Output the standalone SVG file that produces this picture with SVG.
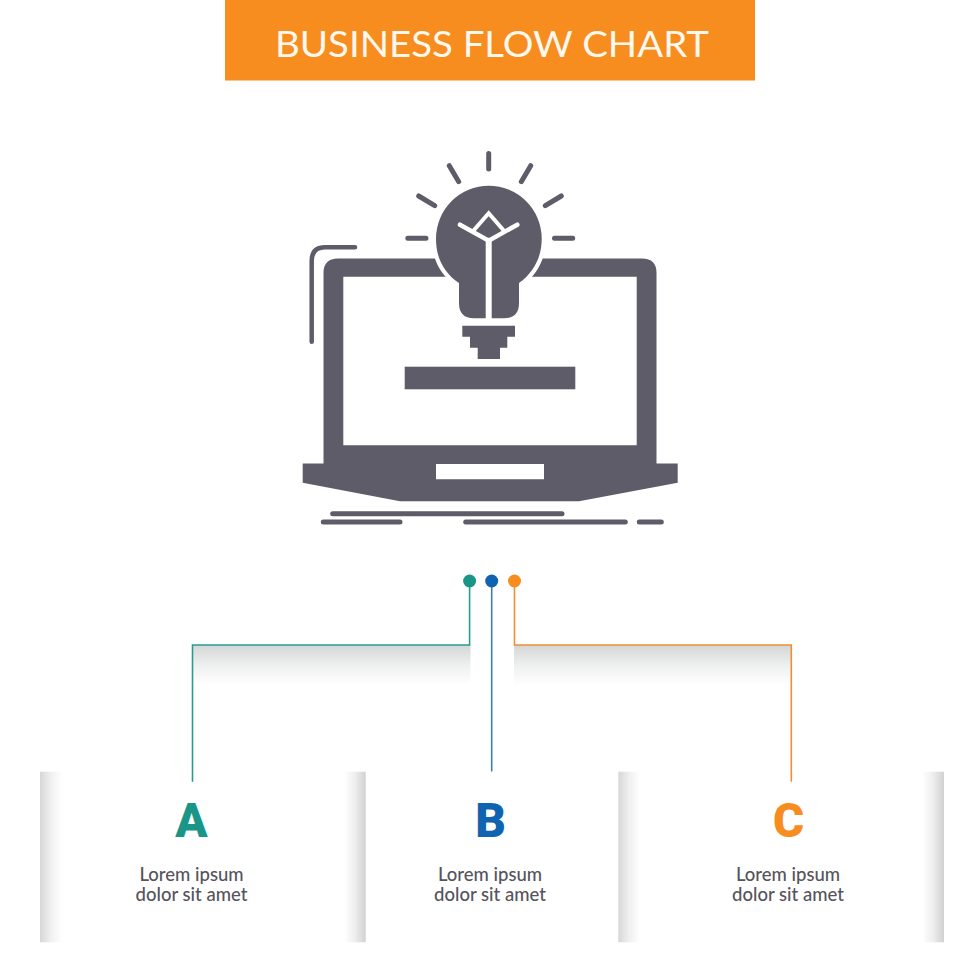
<svg xmlns="http://www.w3.org/2000/svg" width="980" height="980" viewBox="0 0 980 980">
<style>
.ic{fill:#5d5c68}
.ln{fill:none;stroke:#5d5c68;stroke-width:5;stroke-linecap:round}
.wl{fill:none;stroke:#fff;stroke-linecap:round;stroke-linejoin:miter}
.body{font-family:"Lato","Liberation Sans",sans-serif;font-size:18.500px;font-weight:500;fill:#55545c;text-anchor:middle}
.letter{font-family:"Roboto","Liberation Sans",sans-serif;font-size:47.500px;font-weight:900;text-anchor:middle}
.conn{fill:none;stroke-width:1.6}
</style>
<defs>
<path id="bulbshape" d="M459 283C444 273 436 258 436 238.700A52.850 52.850 0 0 1 541.700 238.700C541.700 258 533 273 519 283V303Q519 318.300 504 318.300H474Q459 318.300 459 303Z"/>
<linearGradient id="down" x1="0" y1="0" x2="0" y2="1"><stop offset="0" stop-color="#d4d5d5"/><stop offset=".5" stop-color="#eeefef"/><stop offset="1" stop-color="#fff"/></linearGradient>
<linearGradient id="toR" x1="0" y1="0" x2="1" y2="0"><stop offset="0" stop-color="#d6d7d7"/><stop offset=".5" stop-color="#f0f0f0"/><stop offset="1" stop-color="#fff"/></linearGradient>
<linearGradient id="toL" x1="1" y1="0" x2="0" y2="0"><stop offset="0" stop-color="#d0d1d1"/><stop offset=".5" stop-color="#eeeeee"/><stop offset="1" stop-color="#fff"/></linearGradient>
</defs>
<rect width="980" height="980" fill="#fff"/>
<g id="header">
<rect x="225" y="0" width="530" height="80.500" fill="#f78d1f"/>
<text x="492" y="56.500" font-family="Lato,'Liberation Sans',sans-serif" font-size="37.500" fill="#fff8ee" text-anchor="middle" textLength="434" lengthAdjust="spacingAndGlyphs">BUSINESS FLOW CHART</text>
</g>
<g id="icon">
<path class="ic" fill-rule="evenodd" d="M338 258.500H642Q656.500 258.500 656.500 273V463.500H677.700V482.700L579 501.300H400L302.700 482.700V463.500H323.500V273Q323.500 258.500 338 258.500ZM343.300 276.700V445.300H636.700V276.700ZM436 464V479.300H544V464Z"/>
<path d="M355 247.300H325Q311.700 247.300 311.700 261V341.700" class="ln" style="stroke-width:4.500"/>
<rect class="ic" x="404.700" y="366.700" width="170.600" height="22.600"/>
<g id="bulb">
<use href="#bulbshape" fill="#fff" stroke="#fff" stroke-width="8"/>
<use href="#bulbshape" class="ic"/>
<path class="ic" d="M462.300 325.700H515V336.700H507.300V347.700H500V359H477.700V347.700H470V336.700H462.300Z"/>
<path class="wl" stroke-width="4.500" d="M460 224.700L488.700 240.700L517.300 224.700"/>
<path class="wl" stroke-width="4" stroke-linecap="butt" d="M474 230L488.700 213.300L503.300 230"/>
<path class="wl" stroke-width="6" stroke-linecap="butt" d="M488.700 240.700V319"/>
</g>
<g id="rays">
<path class="ln" d="M488.700 153.500V169M449.300 165.700L458.700 181.700M530.700 165.700L521.300 181.700M418.700 196L434.700 205.700M561.300 196L545.300 205.700M407.800 238.300H426M554.500 238.300H572.700"/>
</g>
<path class="ln" d="M332.700 513.700H562M323.300 522H400M465.700 522H625.300M639.300 522H661.300"/>
</g>
<g id="panel-a">
<rect x="40" y="771.700" width="22" height="170.600" fill="url(#toR)"/>
<rect x="344" y="771.700" width="21.700" height="170.600" fill="url(#toL)"/>
<text class="letter" x="191.500" y="837.300" fill="#1a9688">A</text>
<text class="body" x="191.500" y="880.700">Lorem ipsum</text>
<text class="body" x="191.500" y="901">dolor sit amet</text>
</g>
<g id="panel-b">
<text class="letter" x="490.500" y="837.300" fill="#1063ae">B</text>
<text class="body" x="490" y="880.700">Lorem ipsum</text>
<text class="body" x="490" y="901">dolor sit amet</text>
</g>
<g id="panel-c">
<rect x="618.300" y="771.700" width="22" height="170.600" fill="url(#toR)"/>
<rect x="922" y="771.700" width="22" height="170.600" fill="url(#toL)"/>
<text class="letter" x="788.500" y="837.300" fill="#f78d1f">C</text>
<text class="body" x="788" y="880.700">Lorem ipsum</text>
<text class="body" x="788" y="901">dolor sit amet</text>
</g>
<g id="connectors">
<rect x="192.500" y="645" width="278" height="40" fill="url(#down)"/>
<rect x="514" y="645" width="277.500" height="40" fill="url(#down)"/>
<path class="conn" stroke="#2a9c8f" d="M469.600 581V645H192.500V781.700"/>
<path class="conn" stroke="#3f7fa8" d="M491.700 581V771.500"/>
<path class="conn" stroke="#f08f32" d="M514.500 581V645H791.300V781.700"/>
<circle cx="469.600" cy="581" r="6.500" fill="#1a9688"/>
<circle cx="491.700" cy="581" r="6.500" fill="#1063ae"/>
<circle cx="514.500" cy="581" r="6.500" fill="#f78d1f"/>
</g>
</svg>
